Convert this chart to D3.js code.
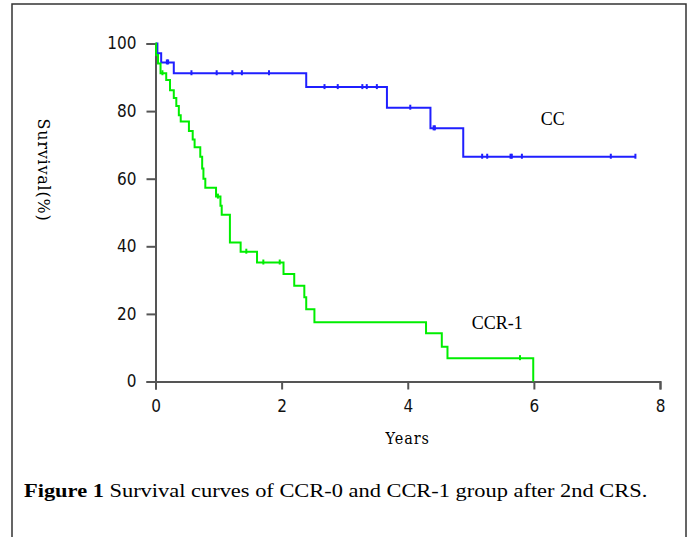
<!DOCTYPE html>
<html>
<head>
<meta charset="utf-8">
<script src="https://d3js.org/d3.v7.min.js"></script>
<style>
  body { margin: 0; background: #fff; }
  .axis path, .axis line { stroke: #555; stroke-width: 2; }
  .axis text { font-family: "DejaVu Sans Condensed", "DejaVu Sans", sans-serif; font-stretch: condensed; font-size: 17px; fill: #111; }
</style>
</head>
<body>
<div id="chart-area"></div>
<script>
// CC group (blue): step times (years) and survival (%)
const ccTimes = [0, 0.03, 0.09, 0.29, 2.39, 3.67, 4.36, 4.88, 7.62]
const ccSurv = [100, 97.1, 94.4, 91.2, 87.1, 81.0, 74.9, 66.5, 66.5]
const ccCensor = [0.18, 0.20, 0.57, 0.97, 1.22, 1.37, 1.80, 2.68, 2.89, 3.28, 3.35, 3.51,
  4.04, 4.41, 4.43, 5.18, 5.26, 5.63, 5.65, 5.81, 7.22, 7.61]

// CCR-1 group (green)
const ccrTimes = [0, 0.01, 0.04, 0.08, 0.17, 0.23, 0.29, 0.33, 0.37, 0.40, 0.53, 0.59, 0.62,
  0.71, 0.74, 0.76, 0.79, 0.96, 1.03, 1.05, 1.18, 1.35, 1.61, 2.03, 2.20, 2.36, 2.39, 2.52,
  4.29, 4.54, 4.63, 5.99]
const ccrSurv = [100, 96.6, 94.1, 91.2, 89.2, 86.2, 83.9, 81.5, 78.8, 76.9, 74.1, 71.6, 69.3,
  66.5, 63.0, 60.0, 57.3, 54.7, 52.0, 49.3, 41.1, 38.4, 35.2, 31.8, 28.3, 24.9, 21.4, 17.5,
  14.3, 10.3, 6.9, 0]
const ccrCensor = [0.11, 0.99, 1.44, 1.71, 1.97, 5.78]

const xTicks = [0, 2, 4, 6, 8]
const yTicks = [0, 20, 40, 60, 80, 100]

const MARGIN = { LEFT: 155.5, TOP: 43.5 }
const WIDTH = 660 - MARGIN.LEFT
const HEIGHT = 381.5 - MARGIN.TOP

const svg = d3.select("#chart-area").append("svg")
  .attr("width", 688)
  .attr("height", 537)

// outer frame
svg.append("rect")
  .attr("x", 12).attr("y", 4)
  .attr("width", 674).attr("height", 545)
  .attr("fill", "none")
  .attr("stroke", "#333")
  .attr("stroke-width", 1.5)

const g = svg.append("g")
  .attr("transform", `translate(${MARGIN.LEFT}, ${MARGIN.TOP})`)

const x = d3.scaleLinear().domain([0, 8]).range([0, WIDTH])
const y = d3.scaleLinear().domain([0, 100]).range([HEIGHT, 0])

g.append("g")
  .attr("class", "x axis")
  .attr("transform", `translate(0, ${HEIGHT})`)
  .call(d3.axisBottom(x).tickValues(xTicks).tickSize(8).tickSizeOuter(8).tickPadding(10))

g.append("g")
  .attr("class", "y axis")
  .call(d3.axisLeft(y).tickValues(yTicks).tickSize(9).tickSizeOuter(9).tickPadding(10))

// curves
const line = d3.line()
  .x(d => x(d[0]))
  .y(d => y(d[1]))
  .curve(d3.curveStepAfter)

function stepValue(times, surv, t) {
  const i = d3.bisectRight(times, t) - 1
  return surv[Math.max(0, i)]
}

const groups = [
  { times: ccTimes, surv: ccSurv, censor: ccCensor, color: "#1f1fff" },
  { times: ccrTimes, surv: ccrSurv, censor: ccrCensor, color: "#00ee00" }
]

groups.forEach(grp => {
  g.append("path")
    .datum(grp.times.map((t, i) => [t, grp.surv[i]]))
    .attr("fill", "none")
    .attr("stroke", grp.color)
    .attr("stroke-width", 2)
    .attr("d", line)

  g.selectAll(null)
    .data(grp.censor)
    .enter().append("line")
      .attr("x1", d => x(d)).attr("x2", d => x(d))
      .attr("y1", d => y(stepValue(grp.times, grp.surv, d)) - 3)
      .attr("y2", d => y(stepValue(grp.times, grp.surv, d)) + 2)
      .attr("stroke", grp.color)
      .attr("stroke-width", 2)
})

// series labels
g.append("text")
  .attr("x", x(6.3))
  .attr("y", y(76))
  .attr("font-family", "Liberation Serif, serif")
  .attr("font-size", "18px")
  .attr("text-anchor", "middle")
  .text("CC")

g.append("text")
  .attr("x", x(5.42))
  .attr("y", y(15.4))
  .attr("font-family", "Liberation Serif, serif")
  .attr("font-size", "18px")
  .attr("text-anchor", "middle")
  .text("CCR-1")

// X label
g.append("text")
  .attr("x", x(4))
  .attr("y", HEIGHT + 62)
  .attr("font-family", "DejaVu Serif Condensed, DejaVu Serif, serif")
  .attr("font-size", "16px")
  .attr("letter-spacing", "1px")
  .attr("text-anchor", "middle")
  .text("Years")

// Y label (reads top to bottom)
svg.append("text")
  .attr("transform", "translate(38, 170) rotate(90)")
  .attr("font-family", "DejaVu Serif, serif")
  .attr("font-size", "16px")
  .attr("letter-spacing", "0.8px")
  .attr("text-anchor", "middle")
  .text("Survival(%)")

// caption (reference text is slightly stretched horizontally)
const cap = svg.append("text")
  .attr("transform", "translate(24, 497) scale(1.15, 1)")
  .attr("font-family", "Liberation Serif, Times New Roman, serif")
  .attr("font-size", "19.5px")
cap.append("tspan").attr("font-weight", "bold").text("Figure 1")
cap.append("tspan").text(" Survival curves of CCR-0 and CCR-1 group after 2nd CRS.")
</script>
</body>
</html>
